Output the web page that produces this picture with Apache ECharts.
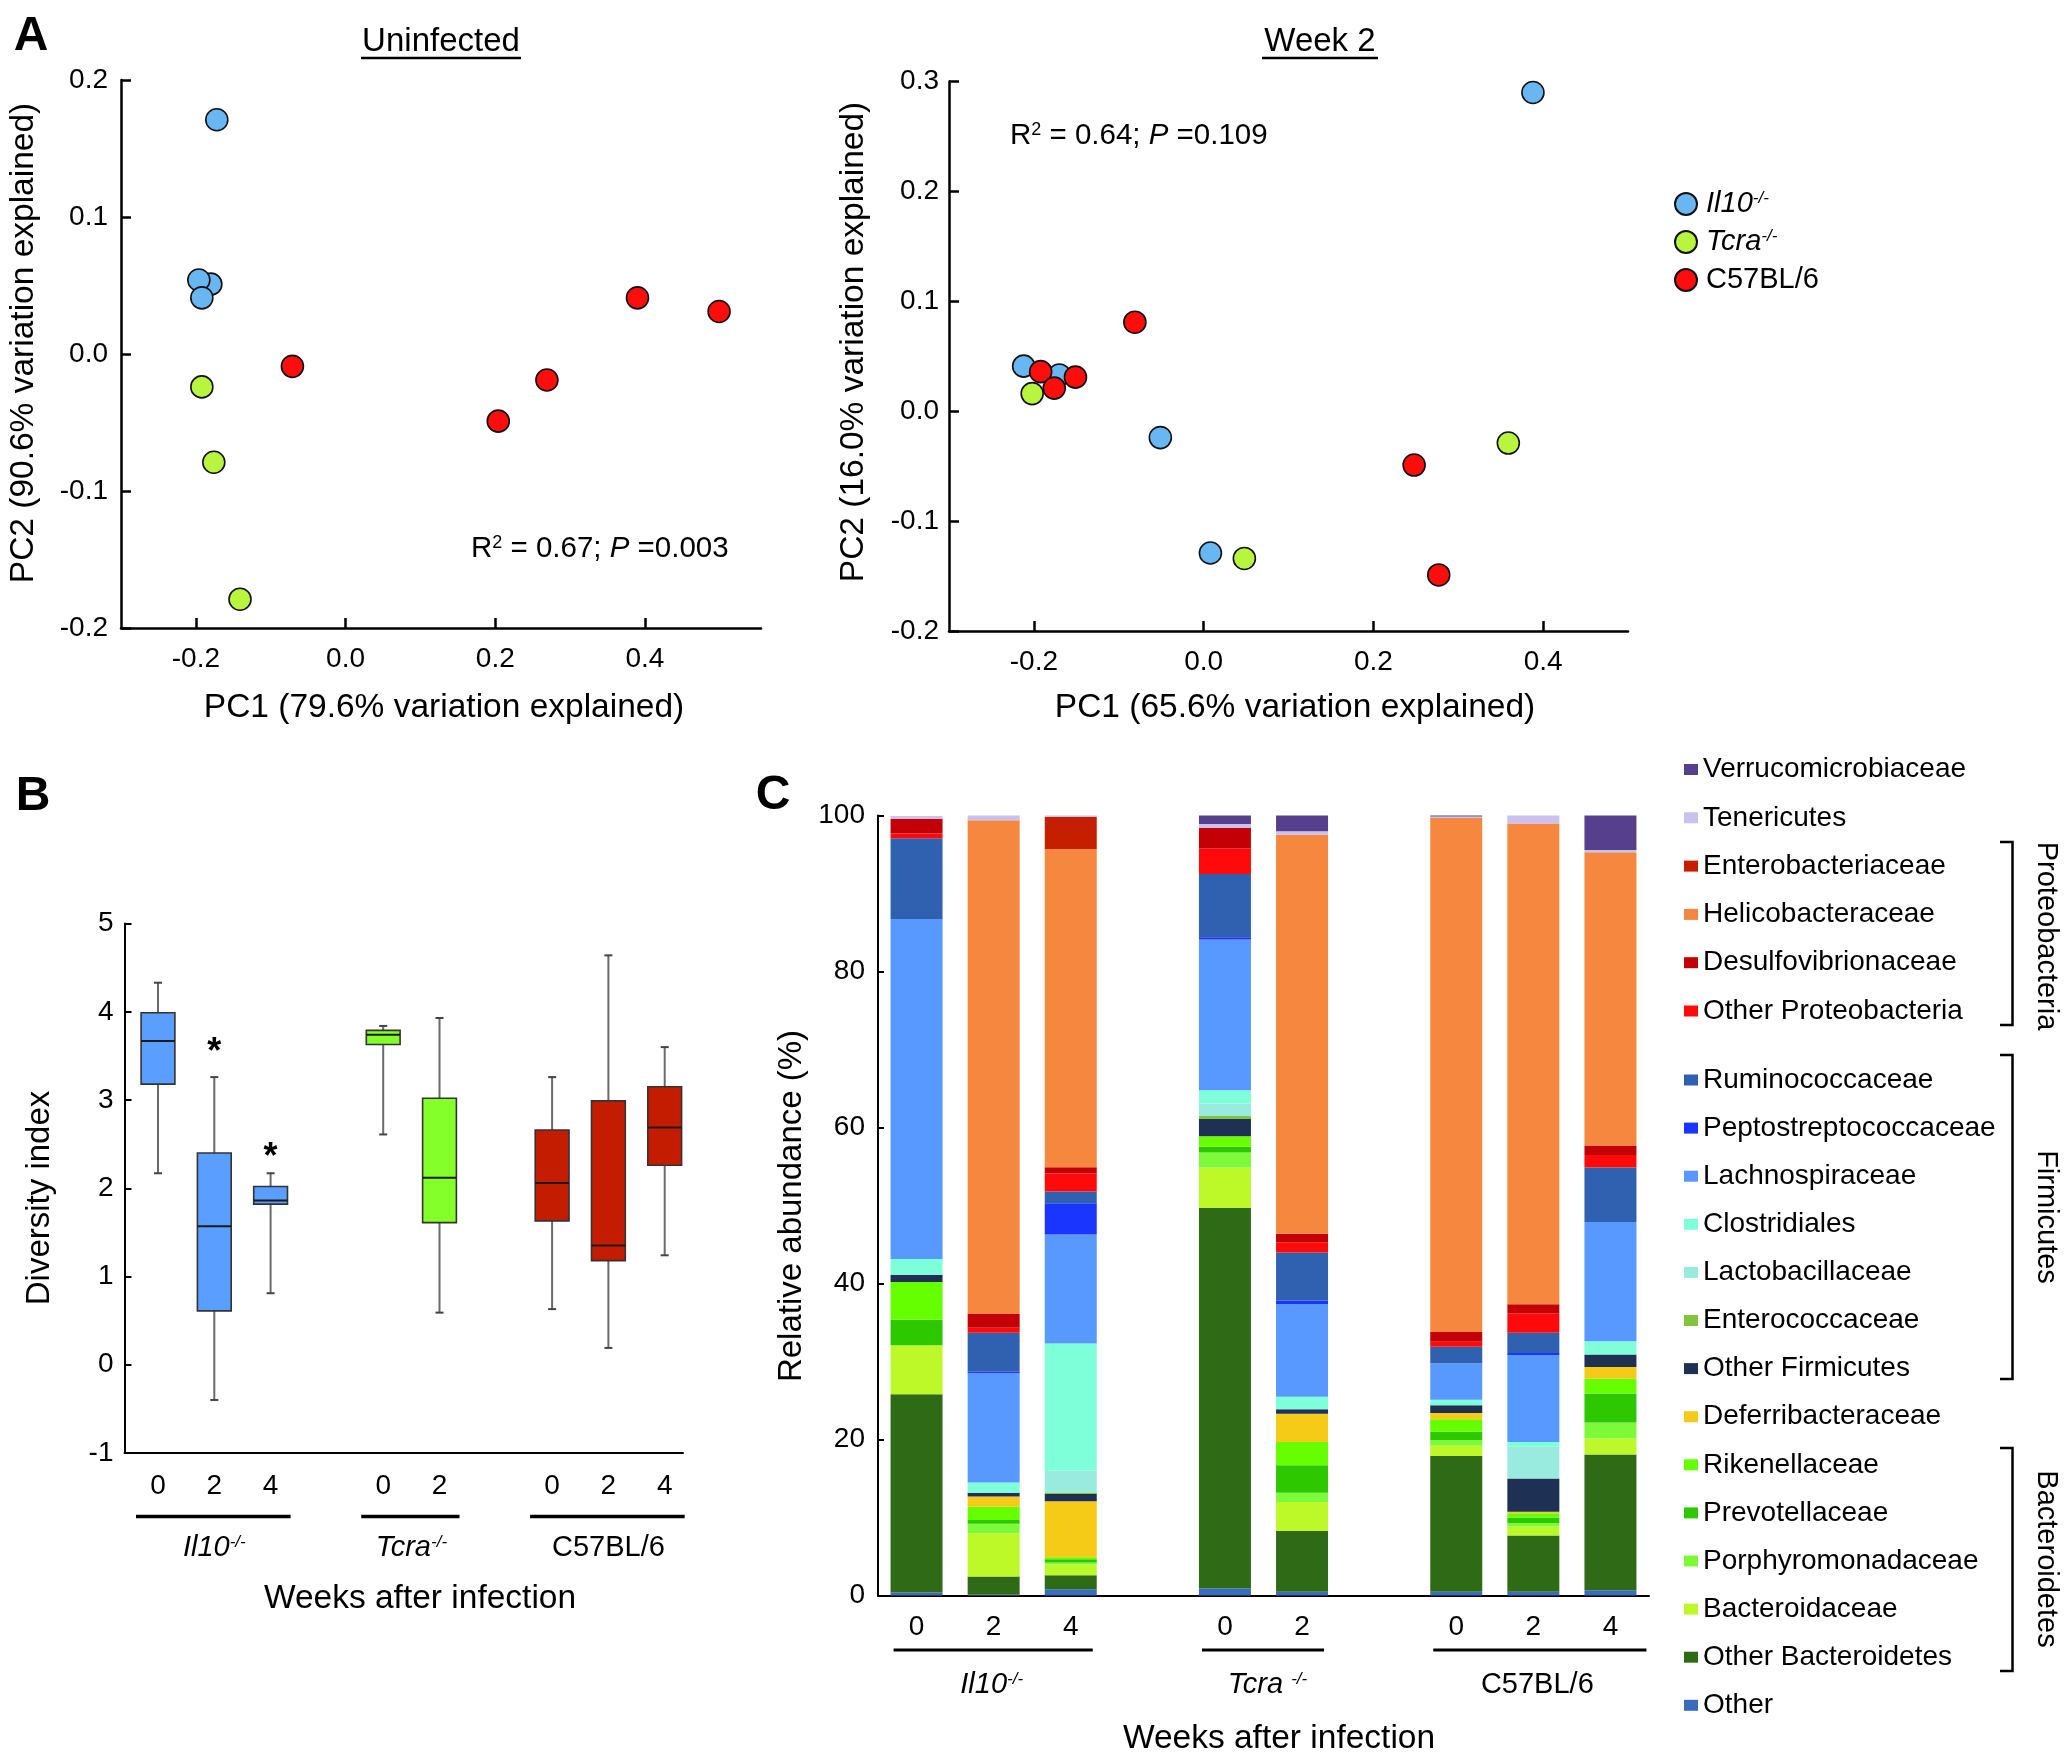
<!DOCTYPE html>
<html><head><meta charset="utf-8">
<script src="https://cdn.jsdelivr.net/npm/echarts@6/dist/echarts.min.js"></script>
<style>html,body{margin:0;padding:0;background:#fff}#c{width:2069px;height:1763px}</style>
</head><body><div id="c"></div>
<script>
// ---------- Panel A: PCoA scatter ----------
const uninfIl10 = [[-0.180, 0.051], [-0.196, 0.054], [-0.192, 0.041], [-0.172, 0.171]];
const uninfTcra = [[-0.192, -0.024], [-0.176, -0.079], [-0.141, -0.179]];
const uninfC57 = [[-0.071, -0.009], [0.204, -0.049], [0.269, -0.019], [0.390, 0.041], [0.499, 0.031]];
const wk2Il10 = [[0.388, 0.290], [-0.212, 0.041], [-0.170, 0.033], [-0.051, -0.024], [0.008, -0.129]];
const wk2Tcra = [[-0.202, 0.016], [0.048, -0.134], [0.359, -0.029]];
const wk2C57 = [[-0.081, 0.081], [-0.192, 0.036], [-0.151, 0.031], [-0.176, 0.021], [0.248, -0.049], [0.277, -0.149]];
const pcTicksX = [-0.2, 0, 0.2, 0.4];
const groupNames = ['Il10-/-', 'Tcra-/-', 'C57BL/6'];

// ---------- Panel B: diversity boxplots ----------
const boxPos = [0, 1, 2, 4, 5, 7, 8, 9];
const boxWeeks = ['0', '2', '4', '0', '2', '0', '2', '4'];
const boxGroup = [0, 0, 0, 1, 1, 2, 2, 2];
// [min, Q1, median, Q3, max]
const il10Box = [[2.17, 3.18, 3.67, 3.99, 4.33], [-0.40, 0.61, 1.57, 2.40, 3.26], [0.81, 1.82, 1.86, 2.02, 2.17]];
const tcraBox = [[2.61, 3.63, 3.74, 3.79, 3.84], [0.59, 1.61, 2.12, 3.02, 3.93]];
const c57Box = [[0.63, 1.63, 2.06, 2.66, 3.26], [0.19, 1.18, 1.35, 2.99, 4.64], [1.24, 2.26, 2.69, 3.15, 3.60]];
const starX = [1, 2];
const starY = [3.62, 2.43];
const groupSpansB = [[0, 2], [4, 5], [7, 9]];

// ---------- Panel C: stacked relative abundance ----------
const barCats = ['Il10 0', 'Il10 2', 'Il10 4', 'gap1', 'Tcra 0', 'Tcra 2', 'gap2', 'C57 0', 'C57 2', 'C57 4'];
const barWeeks = ['0', '2', '4', '', '0', '2', '', '0', '2', '4'];
const groupSpansC = [[0, 2], [4, 5], [7, 9]];
// stacking order, bottom -> top
const taxa = ['Other', 'Other Bacteroidetes', 'Bacteroidaceae', 'Porphyromonadaceae', 'Prevotellaceae',
  'Rikenellaceae', 'Deferribacteraceae', 'Other Firmicutes', 'Enterococcaceae', 'Lactobacillaceae',
  'Clostridiales', 'Lachnospiraceae', 'Peptostreptococcaceae', 'Ruminococcaceae', 'Other Proteobacteria',
  'Desulfovibrionaceae', 'Helicobacteraceae', 'Enterobacteriaceae', 'Tenericutes', 'Verrucomicrobiaceae'];
const taxaColors = ['#3B6BBF', '#2F6B16', '#BDF928', '#7CFA3A', '#2DC800',
  '#66FF00', '#F5CB17', '#1E3155', '#82C341', '#99EBDF',
  '#7FFFD9', '#5799FE', '#1A35FE', '#3061B1', '#FE0A0A',
  '#C30006', '#F5873E', '#C51F00', '#C9C1EE', '#56408D'];
const il10Wk0 = [0.4, 25.4, 6.3, 0, 3.25, 4.85, 0, 0.95, 0, 0, 2.0, 43.6, 0, 10.35, 0.6, 1.9, 0, 0, 0.35, 0];
const il10Wk2 = [0.1, 2.35, 5.55, 1.2, 0.5, 1.7, 1.3, 0.5, 0, 0, 1.3, 14.0, 0.2, 5.0, 0.65, 1.75, 63.3, 0, 0.6, 0];
const il10Wk4 = [0.8, 1.8, 1.4, 0.23, 0.42, 0.26, 7.2, 0.9, 0.2, 2.8, 16.3, 14.0, 4.0, 1.5, 2.3, 0.8, 40.8, 4.1, 0.2, 0];
const tcraWk0 = [0.9, 48.8, 5.2, 1.9, 0.75, 1.35, 0, 2.2, 0.4, 1.6, 1.7, 19.3, 0.3, 8.1, 3.3, 2.65, 0, 0, 0.47, 1.08];
const tcraWk2 = [0.5, 7.8, 3.7, 1.2, 3.5, 3.0, 3.6, 0.6, 0, 0, 1.6, 11.9, 0.4, 6.2, 1.3, 1.1, 51.15, 0, 0.45, 2.0];
const c57Wk0 = [0.5, 17.4, 1.3, 0.75, 1.05, 1.6, 0.8, 1.0, 0, 0, 0.7, 4.7, 0, 2.1, 0.65, 1.25, 65.9, 0, 0.2, 0.1];
const c57Wk2 = [0.5, 7.2, 1.15, 0.45, 0.7, 0.55, 0.2, 4.25, 0, 4.1, 0.6, 11.15, 0.25, 2.6, 2.5, 1.15, 61.65, 0, 1.0, 0];
const c57Wk4 = [0.7, 17.4, 2.05, 2.05, 3.7, 1.9, 1.5, 1.6, 0, 0, 1.7, 15.3, 0, 7.0, 1.6, 1.2, 37.6, 0, 0.3, 4.4];
const legendTop = ['Verrucomicrobiaceae', 'Tenericutes', 'Enterobacteriaceae', 'Helicobacteraceae', 'Desulfovibrionaceae', 'Other Proteobacteria'];
const legendBottom = ['Ruminococcaceae', 'Peptostreptococcaceae', 'Lachnospiraceae', 'Clostridiales', 'Lactobacillaceae',
  'Enterococcaceae', 'Other Firmicutes', 'Deferribacteraceae', 'Rikenellaceae', 'Prevotellaceae',
  'Porphyromonadaceae', 'Bacteroidaceae', 'Other Bacteroidetes', 'Other'];

// ---------- build ----------
const FONT = 'Liberation Sans, Arial, Helvetica, sans-serif';
const scatterColors = ['#69B7F2', '#B8F53F', '#FF0D0D'];
const boxColors = ['#5A9EFF', '#84FF2A', '#C41C00'];

const chart = echarts.init(document.getElementById('c'), null, {renderer: 'canvas'});

function valAxis(grid, min, max, extra) {
  return Object.assign({
    gridIndex: grid, type: 'value', min: min, max: max,
    axisLine: {show: true, onZero: false, lineStyle: {color: '#000', width: 2.5}},
    axisTick: {show: true, inside: true, length: 10, lineStyle: {color: '#000', width: 2.5}},
    axisLabel: {fontSize: 28, color: '#000', fontFamily: FONT},
    splitLine: {show: false}
  }, extra);
}
const fmt1 = v => (Math.abs(v) < 1e-9 ? 0 : v).toFixed(1);

const xAxes = [
  valAxis(0, -0.3, 0.555, {axisTick: {show: true, inside: true, length: 10, customValues: pcTicksX, lineStyle: {color: '#000', width: 2.5}},
    axisLabel: {customValues: pcTicksX, formatter: fmt1, fontSize: 28, color: '#000', margin: 17, fontFamily: FONT}}),
  valAxis(1, -0.3, 0.5, {axisTick: {show: true, inside: true, length: 10, customValues: pcTicksX, lineStyle: {color: '#000', width: 2.5}},
    axisLabel: {customValues: pcTicksX, formatter: fmt1, fontSize: 28, color: '#000', margin: 17, fontFamily: FONT}}),
  valAxis(2, -0.595, 9.325, {axisLine: {show: true, onZero: false, lineStyle: {color: '#000', width: 2}},
    axisTick: {show: false},
    axisLabel: {customValues: boxPos, formatter: v => boxWeeks[boxPos.indexOf(Math.round(v))], fontSize: 28, color: '#000', margin: 19, fontFamily: FONT}}),
  {gridIndex: 3, type: 'category', data: barCats,
    axisLine: {show: true, onZero: false, lineStyle: {color: '#000', width: 2}},
    axisTick: {show: false},
    axisLabel: {interval: 0, formatter: (v, i) => barWeeks[i], fontSize: 28, color: '#000', margin: 18, fontFamily: FONT},
    splitLine: {show: false}}
];
const yAxes = [
  valAxis(0, -0.2, 0.2, {interval: 0.1, axisLabel: {formatter: fmt1, fontSize: 28, color: '#000', margin: 13, fontFamily: FONT}}),
  valAxis(1, -0.2, 0.3, {interval: 0.1, axisLabel: {formatter: fmt1, fontSize: 28, color: '#000', margin: 10, fontFamily: FONT}}),
  valAxis(2, -1, 5, {interval: 1, axisLine: {show: true, onZero: false, lineStyle: {color: '#000', width: 2}},
    axisTick: {show: true, inside: true, length: 7, lineStyle: {color: '#000', width: 2}},
    axisLabel: {fontSize: 28, color: '#000', margin: 11, fontFamily: FONT}}),
  valAxis(3, 0, 100, {interval: 20, axisLine: {show: true, onZero: false, lineStyle: {color: '#000', width: 2}},
    axisTick: {show: true, inside: true, length: 6, lineStyle: {color: '#000', width: 2}},
    axisLabel: {fontSize: 28, color: '#000', margin: 13, fontFamily: FONT}})
];

const series = [];
function scatter(name, data, gi, ci) {
  series.push({name: name, type: 'scatter', xAxisIndex: gi, yAxisIndex: gi, data: data, symbolSize: 22,
    itemStyle: {color: scatterColors[ci], borderColor: '#111', borderWidth: 1.6, opacity: 1}, z: 3});
}
scatter(groupNames[0], uninfIl10, 0, 0); scatter(groupNames[1], uninfTcra, 0, 1); scatter(groupNames[2], uninfC57, 0, 2);
scatter(groupNames[0], wk2Il10, 1, 0); scatter(groupNames[1], wk2Tcra, 1, 1); scatter(groupNames[2], wk2C57, 1, 2);

const allBoxes = il10Box.concat(tcraBox, c57Box);
const boxData = allBoxes.map((b, i) => [boxPos[i]].concat(b, [boxGroup[i]]));
series.push({
  type: 'custom', xAxisIndex: 2, yAxisIndex: 2, data: boxData,
  encode: {x: 0, y: [1, 2, 3, 4, 5]},
  renderItem: function (params, api) {
    const x = api.value(0);
    const mn = api.coord([x, api.value(1)]);
    const q1 = api.coord([x, api.value(2)]);
    const md = api.coord([x, api.value(3)]);
    const q3 = api.coord([x, api.value(4)]);
    const mx = api.coord([x, api.value(5)]);
    const w = api.size([0.6, 0])[0];
    const cx = mn[0];
    const g = api.value(6);
    return {type: 'group', children: [
      {type: 'line', shape: {x1: cx, y1: mx[1], x2: cx, y2: mn[1]}, style: {stroke: '#6a6a6a', lineWidth: 2}},
      {type: 'line', shape: {x1: cx - 4, y1: mx[1], x2: cx + 4, y2: mx[1]}, style: {stroke: '#444', lineWidth: 2}},
      {type: 'line', shape: {x1: cx - 4, y1: mn[1], x2: cx + 4, y2: mn[1]}, style: {stroke: '#444', lineWidth: 2}},
      {type: 'rect', shape: {x: cx - w / 2, y: q3[1], width: w, height: q1[1] - q3[1]}, style: {fill: boxColors[g], stroke: '#333', lineWidth: 1.6}},
      {type: 'line', shape: {x1: cx - w / 2, y1: md[1], x2: cx + w / 2, y2: md[1]}, style: {stroke: '#1a1a1a', lineWidth: 2}}
    ]};
  }
});

const bars = [il10Wk0, il10Wk2, il10Wk4, null, tcraWk0, tcraWk2, null, c57Wk0, c57Wk2, c57Wk4];
taxa.forEach((t, k) => {
  series.push({name: t, type: 'bar', stack: 'abund', xAxisIndex: 3, yAxisIndex: 3, barWidth: 52,
    data: bars.map(b => (b ? b[k] : '-')), itemStyle: {color: taxaColors[k]}, emphasis: {disabled: true}});
});

const legendText = {fontSize: 28, color: '#000', fontFamily: FONT, lineHeight: 26};
chart.setOption({
  animation: false,
  backgroundColor: '#fff',
  textStyle: {fontFamily: FONT},
  grid: [
    {left: 121, top: 80, width: 640, height: 548},
    {left: 949, top: 81.5, width: 679, height: 549.5},
    {left: 124.5, top: 923.6, width: 558.5, height: 529.3},
    {left: 878, top: 815.6, width: 771, height: 780}
  ],
  xAxis: xAxes,
  yAxis: yAxes,
  legend: [
    {data: groupNames, orient: 'vertical', left: 1669, top: 184.5, itemWidth: 22, itemHeight: 22, itemGap: 9, icon: 'circle',
      selectedMode: false,
      formatter: n => (n === 'C57BL/6' ? '{n|C57BL/6}' : '{i|' + n.replace('-/-', '') + '}{s|-/-}'),
      textStyle: {fontSize: 29, color: '#000', fontFamily: FONT, padding: [0, 0, 0, 4],
        rich: {n: {fontSize: 29, fontFamily: FONT, color: '#000'}, i: {fontSize: 29, fontStyle: 'italic', fontFamily: FONT, color: '#000'},
          s: {fontSize: 17, fontStyle: 'italic', verticalAlign: 'top', fontFamily: FONT, color: '#000'}}}},
    {data: legendTop, orient: 'vertical', left: 1679, top: 750.5, itemWidth: 14, itemHeight: 11, itemGap: 20.3, icon: 'rect',
      selectedMode: false, textStyle: legendText},
    {data: legendBottom, orient: 'vertical', left: 1679, top: 1061, itemWidth: 14, itemHeight: 11, itemGap: 20.1, icon: 'rect',
      selectedMode: false, textStyle: legendText}
  ],
  series: series
});

// ---------- annotations ----------
const els = [];
function T(text, x, y, o) {
  o = o || {};
  els.push({type: 'text', x: x, y: y, rotation: o.rot || 0, z: 10,
    style: Object.assign({text: text, fill: '#000', fontFamily: FONT, fontSize: o.size || 33,
      fontWeight: o.weight || 'normal', fontStyle: o.style || 'normal',
      textAlign: o.align || 'center', textVerticalAlign: 'middle', align: o.align || 'center', verticalAlign: 'middle'},
      o.rich ? {rich: o.rich} : {})});
}
function L(x1, y1, x2, y2, w) {
  els.push({type: 'line', z: 10, shape: {x1: x1, y1: y1, x2: x2, y2: y2}, style: {stroke: '#000', lineWidth: w || 3}});
}
function P(points, w) {
  els.push({type: 'polyline', z: 10, shape: {points: points}, style: {stroke: '#000', lineWidth: w || 2.5, fill: null}});
}
const sup = (sz) => ({
  n: {fontSize: sz, fontFamily: FONT, color: '#000'},
  i: {fontSize: sz, fontStyle: 'italic', fontFamily: FONT, color: '#000'},
  s: {fontSize: Math.round(sz * 0.6), fontStyle: 'italic', verticalAlign: 'top', fontFamily: FONT, color: '#000'},
  u: {fontSize: Math.round(sz * 0.6), verticalAlign: 'top', fontFamily: FONT, color: '#000'}
});

// panel letters
T('A', 31, 37, {size: 48, weight: 'bold'});
T('B', 33, 797, {size: 48, weight: 'bold'});
T('C', 773, 796, {size: 48, weight: 'bold'});
// panel A titles
T('Uninfected', 441, 42, {size: 33}); L(361, 58, 521, 58, 2.5);
T('Week 2', 1320, 42, {size: 33}); L(1262, 58, 1378, 58, 2.5);
T('PC1 (79.6% variation explained)', 444, 708, {size: 33.5});
T('PC2 (90.6% variation explained)', 24, 343, {size: 33.5, rot: Math.PI / 2});
T('PC1 (65.6% variation explained)', 1295, 708, {size: 33.5});
T('PC2 (16.0% variation explained)', 854, 342, {size: 33.5, rot: Math.PI / 2});
T('{n|R}{u|2}{n| = 0.67; }{i|P}{n| =0.003}', 471, 549, {align: 'left', rich: sup(29.5)});
T('{n|R}{u|2}{n| = 0.64; }{i|P}{n| =0.109}', 1010, 136, {align: 'left', rich: sup(29.5)});

// panel B
T('Diversity index', 40, 1198, {size: 33, rot: Math.PI / 2});
T('Weeks after infection', 420, 1599, {size: 33.5});
const bLab = ['{i|Il10}{s|-/-}', '{i|Tcra}{s|-/-}', '{n|C57BL/6}'];
groupSpansB.forEach((s, k) => {
  const a = chart.convertToPixel({gridIndex: 2}, [s[0], 0])[0];
  const b = chart.convertToPixel({gridIndex: 2}, [s[1], 0])[0];
  L(a - 22, 1516.5, b + 20, 1516.5, 3.5);
  T(bLab[k], (a + b) / 2, 1548, {rich: sup(29)});
});
starX.forEach((sx, k) => {
  const p = chart.convertToPixel({gridIndex: 2}, [sx, starY[k]]);
  T('*', p[0], p[1] + 8, {size: 36, weight: 'bold'});
});

// panel C
T('Relative abundance (%)', 792, 1206, {size: 33, rot: Math.PI / 2});
T('Weeks after infection', 1279, 1739, {size: 33.5});
const cLab = ['{i|Il10}{s|-/-}', '{i|Tcra }{s|-/-}', '{n|C57BL/6}'];
groupSpansC.forEach((s, k) => {
  const a = chart.convertToPixel({xAxisIndex: 3}, s[0]);
  const b = chart.convertToPixel({xAxisIndex: 3}, s[1]);
  L(a - 23, 1650, b + (k === 2 ? 36 : 22), 1650, 3);
  T(cLab[k], (a + b) / 2 + (k === 0 ? -2 : 4), 1685, {rich: sup(29)});
});
// phylum brackets
P([[2000, 842], [2012.5, 842], [2012.5, 1025], [2000, 1025]]);
P([[2000, 1055], [2012.5, 1055], [2012.5, 1379], [2000, 1379]]);
P([[2000, 1448], [2012.5, 1448], [2012.5, 1671], [2000, 1671]]);
T('Proteobacteria', 2046, 936, {size: 29, rot: -Math.PI / 2});
T('Firmicutes', 2046, 1217, {size: 29, rot: -Math.PI / 2});
T('Bacteroidetes', 2046, 1559, {size: 29, rot: -Math.PI / 2});

chart.setOption({graphic: {elements: els}});
</script>
</body></html>
